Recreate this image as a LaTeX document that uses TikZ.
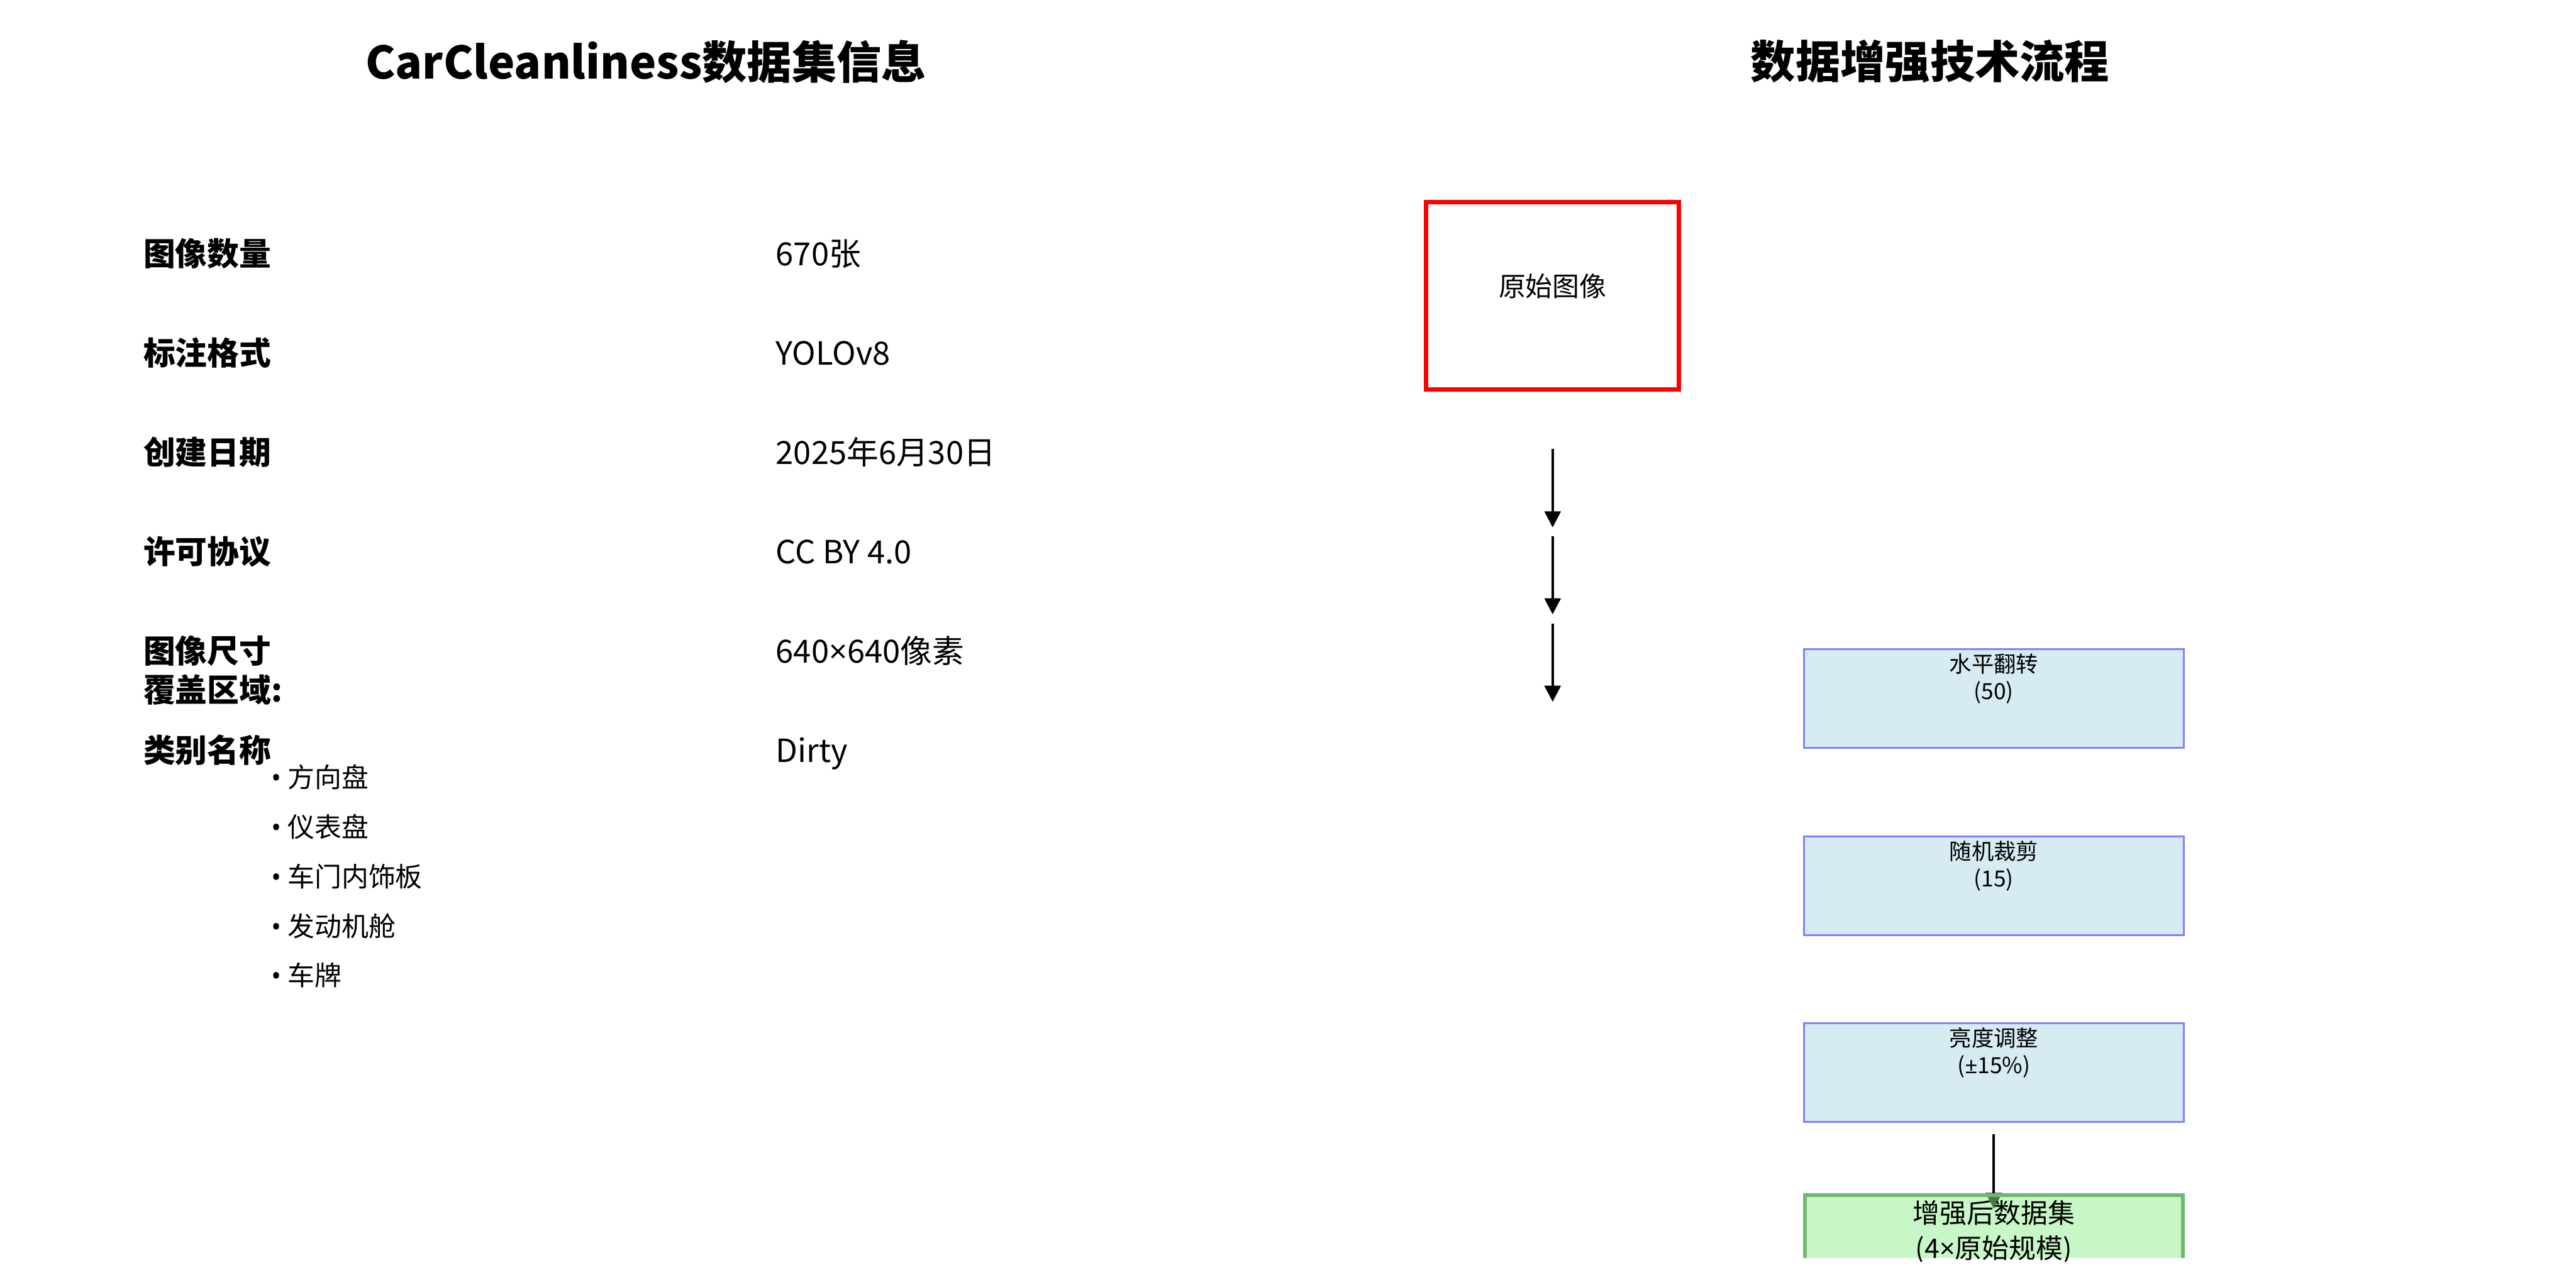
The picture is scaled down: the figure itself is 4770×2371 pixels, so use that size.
\documentclass[tikz,border=0pt]{standalone}
\usepackage{fontspec}
\setmainfont{Noto Sans CJK SC}
\newfontfamily\latinfont{Open Sans}
\usetikzlibrary{arrows.meta,positioning,backgrounds}
\definecolor{origred}{RGB}{255,0,0}
\definecolor{augfill}{RGB}{214,235,242}
\definecolor{augedge}{RGB}{128,128,255}
\definecolor{mergefill}{RGB}{144,238,144}
\definecolor{mergeedge}{RGB}{110,186,110}
\newcommand{\timesign}{{\latinfont ×}}

\begin{document}
\begin{tikzpicture}[
    x=0.01cm, y=-0.01cm,
    heading/.style={inner sep=0, font=\fontsize{23.6}{28}\selectfont\bfseries},
    field/.style={anchor=west, inner sep=0, text height=14.8pt, text depth=2pt, font=\fontsize{16.8}{20}\selectfont\bfseries},
    value/.style={field, font=\fontsize{16.8}{20}\selectfont},
    item/.style={anchor=west, inner sep=0, text height=12.5pt, text depth=1.7pt, font=\fontsize{14.2}{17}\selectfont},
    augbox/.style={draw=augedge, line width=0.95pt, fill=augfill, minimum width=7.03cm, minimum height=1.83cm},
    boxtext/.style={anchor=north, inner sep=0, align=center, font=\fontsize{11.7}{14.2}\selectfont},
    flow/.style={-{Triangle[width=8.5pt,length=8.5pt]}, line width=1.3pt, draw=black}
  ]
  \useasboundingbox (0,0) rectangle (4770,2371);

  % titles
  \node[heading] (infotitle) at (1196,114) {CarCleanliness数据集信息};
  \node[heading] (flowtitle) at (3574,114) {数据增强技术流程};

  % dataset info
  \foreach \name/\val/\y [count=\i] in {图像数量/670张/470, 标注格式/YOLOv8/653, 创建日期/2025年6月30日/838, 许可协议/CC BY 4.0/1022, 图像尺寸/640\timesign 640像素/1206, 类别名称/Dirty/1390} {
    \node[field] (field\i) at (265,\y) {\name};
    \node[value] (value\i) at (1436,\y) {\val};
  }
  \node[field] (cover) at (265,1278) {覆盖区域:};
  \foreach \part [count=\i] in {方向盘, 仪表盘, 车门内饰板, 发动机舱, 车牌}
    \node[item] (part\i) at (502,{1440+91.7*(\i-1)}) {{\latinfont •} \part};

  % augmentation flow
  \node[draw=origred, line width=2.3pt, minimum width=4.68cm, minimum height=3.46cm, text height=12.5pt, text depth=12pt, font=\fontsize{14.2}{17}\selectfont] (orig) at (2875,548) {原始图像};
  \foreach \y [count=\i] in {832,993,1155} {
    \coordinate (stepin\i) at (2875,\y);
    \coordinate (stepout\i) at (2875,{\y+145});
    \draw[flow] (stepin\i) -- (stepout\i);
  }

  \node[augbox] (flip) at (3692,1294) {};
  \node[boxtext, below=0.09cm of flip.north] (fliptext) {水平翻转\\(50)};
  \node[augbox] (crop) at (3692,1641) {};
  \node[boxtext, below=0.09cm of crop.north] (croptext) {随机裁剪\\(15)};
  \node[augbox] (bright) at (3692,1987) {};
  \node[boxtext, below=0.09cm of bright.north] (brighttext) {亮度调整\\({\latinfont ±}15\%)};

  % result box, cut off near the bottom edge
  \begin{scope}
    \clip (0,0) rectangle (4770,2330);
    \node[draw=mergeedge, line width=2pt, fill=mergefill, fill opacity=0.5, minimum width=7cm, minimum height=1.83cm] (merged) at (3692,2305) {};
  \end{scope}
  \begin{scope}
    \clip (0,0) rectangle (4770,2337);
    \node[boxtext, below=0.13cm of merged.north, font=\fontsize{14.2}{18.5}\selectfont] (mergedtext) {增强后数据集\\(4\timesign 原始规模)};
  \end{scope}
  \begin{scope}[on background layer]
    \draw[flow, shorten <=0.21cm, shorten >=-0.295cm] (bright) -- (merged);
  \end{scope}
\end{tikzpicture}
\end{document}
